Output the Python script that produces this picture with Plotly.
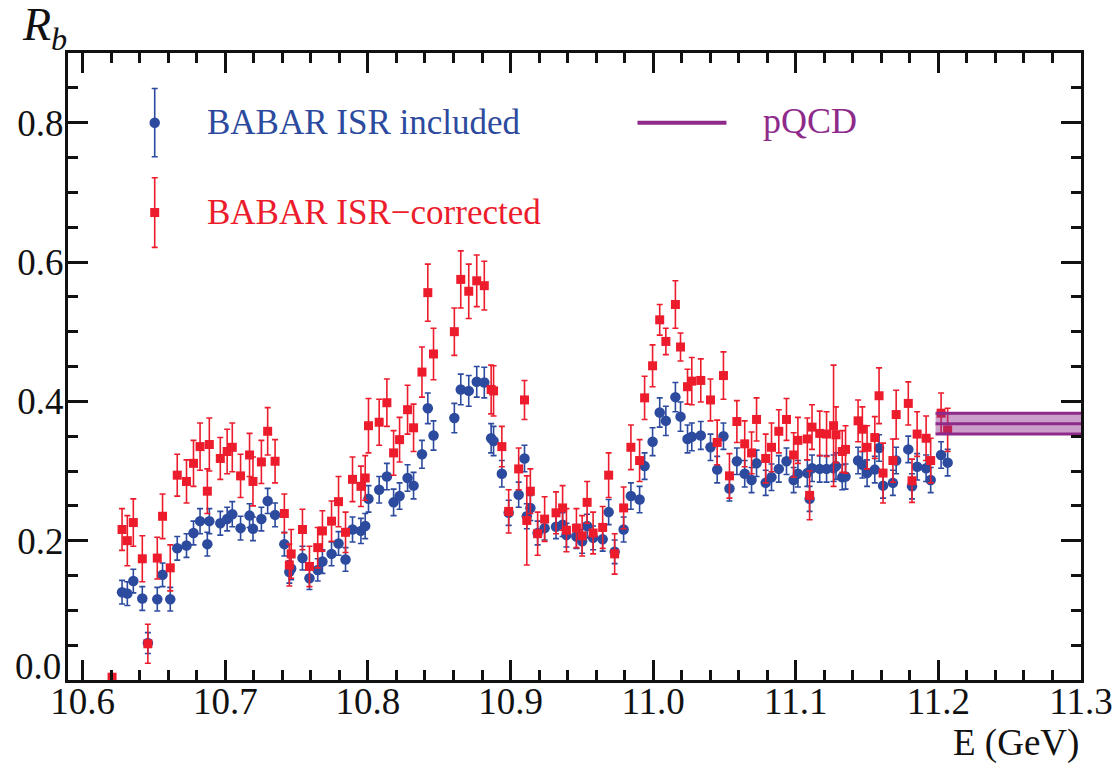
import plotly.graph_objects as go

# Centre-of-mass energy of each scan point (GeV)
energy = [
    10.6206, 10.6276, 10.6313, 10.6355, 10.6418, 10.6457, 10.6523, 10.6560, 10.6614, 10.6663,
    10.6728, 10.6777, 10.6823, 10.6874, 10.6888, 10.6965, 10.7013, 10.7049, 10.7107, 10.7170,
    10.7194, 10.7253, 10.7297, 10.7349, 10.7414, 10.7449, 10.7462, 10.7541, 10.7590, 10.7648,
    10.7681, 10.7745, 10.7794, 10.7843, 10.7892, 10.7951, 10.7981, 10.8004, 10.8079, 10.8133,
    10.8180, 10.8222, 10.8278, 10.8320, 10.8379, 10.8420, 10.8460, 10.8606, 10.8651, 10.8707,
    10.8763, 10.8816, 10.8864, 10.8881, 10.8939, 10.8987, 10.9057, 10.9098, 10.9114, 10.9139,
    10.9190, 10.9239, 10.9319, 10.9365, 10.9392, 10.9462, 10.9502, 10.9537, 10.9579, 10.9646,
    10.9688, 10.9730, 10.9793, 10.9844, 10.9905, 10.9940, 10.9996, 11.0046, 11.0089, 11.0156,
    11.0192, 11.0241, 11.0271, 11.0334, 11.0402, 11.0449, 11.0493, 11.0535, 11.0587, 11.0642,
    11.0690, 11.0725, 11.0789, 11.0830, 11.0881, 11.0935, 11.0985, 11.1015, 11.1081, 11.1097,
    11.1114, 11.1168, 11.1216, 11.1265, 11.1282, 11.1326, 11.1349, 11.1437, 11.1467, 11.1500,
    11.1554, 11.1584, 11.1612, 11.1681, 11.1704, 11.1789, 11.1815, 11.1851, 11.1914, 11.1946,
    11.2019, 11.2065,
]

# R_b with ISR effects included
rb_isr_included = [
    None, 0.126, 0.124, 0.142, 0.117, 0.053, 0.116, 0.151, 0.116, 0.189,
    0.193, 0.211, 0.228, 0.195, 0.228, 0.225, 0.231, 0.238, 0.218, 0.236,
    0.217, 0.231, 0.257, 0.237, 0.195, 0.155, 0.160, 0.175, 0.146, 0.158,
    0.170, 0.181, 0.196, 0.173, 0.216, 0.214, 0.221, 0.260, 0.273, 0.292,
    0.255, 0.264, 0.290, 0.279, 0.324, 0.390, 0.351, 0.376, 0.417, 0.415,
    0.428, 0.427, 0.347, 0.343, 0.296, 0.240, 0.266, 0.318, 0.235, 0.247,
    0.211, 0.218, 0.220, 0.223, 0.208, 0.206, 0.199, 0.221, 0.204, 0.202,
    0.241, 0.184, 0.216, 0.264, 0.259, 0.307, 0.342, 0.384, 0.372, 0.406,
    0.378, 0.346, 0.349, 0.351, 0.334, 0.302, 0.350, 0.275, 0.314, 0.296,
    0.287, 0.311, 0.283, 0.291, 0.303, 0.314, 0.287, 0.296, 0.297, 0.260,
    0.304, 0.303, 0.303, 0.304, 0.307, 0.291, 0.292, 0.315, 0.309, 0.297,
    0.302, 0.333, 0.279, 0.283, 0.315, 0.331, 0.278, 0.306, 0.304, 0.287,
    0.323, 0.312,
]
rb_isr_included_err = [
    None, 0.017, 0.017, 0.017, 0.017, 0.015, 0.017, 0.017, 0.017, 0.017,
    0.017, 0.017, 0.018, 0.017, 0.018, 0.017, 0.017, 0.018, 0.017, 0.017,
    0.017, 0.017, 0.018, 0.017, 0.017, 0.016, 0.016, 0.017, 0.016, 0.016,
    0.017, 0.017, 0.017, 0.017, 0.018, 0.018, 0.018, 0.019, 0.019, 0.019,
    0.019, 0.019, 0.019, 0.019, 0.020, 0.022, 0.021, 0.021, 0.022, 0.022,
    0.022, 0.022, 0.021, 0.021, 0.019, 0.018, 0.018, 0.019, 0.018, 0.018,
    0.017, 0.017, 0.017, 0.017, 0.017, 0.017, 0.017, 0.017, 0.017, 0.017,
    0.018, 0.017, 0.018, 0.019, 0.019, 0.019, 0.020, 0.021, 0.021, 0.021,
    0.021, 0.020, 0.020, 0.020, 0.019, 0.019, 0.019, 0.018, 0.019, 0.019,
    0.018, 0.019, 0.018, 0.019, 0.019, 0.019, 0.018, 0.019, 0.019, 0.018,
    0.019, 0.019, 0.019, 0.019, 0.019, 0.018, 0.018, 0.019, 0.019, 0.019,
    0.019, 0.019, 0.018, 0.018, 0.019, 0.019, 0.018, 0.019, 0.019, 0.018,
    0.019, 0.019,
]

# R_b after ISR correction
rb_isr_corrected = [
    0.004, 0.216, 0.200, 0.226, 0.174, 0.052, 0.175, 0.235, 0.161, 0.294,
    0.285, 0.311, 0.335, 0.271, 0.338, 0.318, 0.328, 0.334, 0.293, 0.323,
    0.285, 0.313, 0.357, 0.314, 0.239, 0.165, 0.181, 0.216, 0.163, 0.190,
    0.214, 0.228, 0.256, 0.212, 0.288, 0.278, 0.290, 0.365, 0.370, 0.398,
    0.326, 0.345, 0.388, 0.362, 0.442, 0.556, 0.468, 0.500, 0.575, 0.558,
    0.573, 0.566, 0.417, 0.415, 0.335, 0.242, 0.303, 0.402, 0.229, 0.271,
    0.210, 0.231, 0.240, 0.247, 0.215, 0.218, 0.207, 0.255, 0.211, 0.219,
    0.294, 0.181, 0.247, 0.334, 0.315, 0.405, 0.451, 0.517, 0.486, 0.539,
    0.478, 0.421, 0.429, 0.430, 0.402, 0.341, 0.437, 0.293, 0.371, 0.339,
    0.326, 0.374, 0.318, 0.334, 0.357, 0.374, 0.323, 0.344, 0.346, 0.265,
    0.363, 0.354, 0.353, 0.365, 0.352, 0.328, 0.331, 0.372, 0.360, 0.334,
    0.348, 0.408, 0.297, 0.315, 0.381, 0.397, 0.286, 0.353, 0.347, 0.315,
    0.383, 0.359,
]
rb_isr_corrected_err = [
    0.003, 0.030, 0.036, 0.034, 0.033, 0.028, 0.030, 0.032, 0.033, 0.030,
    0.031, 0.033, 0.034, 0.032, 0.038, 0.030, 0.032, 0.035, 0.031, 0.031,
    0.035, 0.031, 0.034, 0.031, 0.028, 0.030, 0.035, 0.029, 0.029, 0.029,
    0.029, 0.029, 0.036, 0.029, 0.032, 0.029, 0.032, 0.039, 0.033, 0.034,
    0.032, 0.032, 0.035, 0.034, 0.036, 0.041, 0.037, 0.034, 0.041, 0.039,
    0.037, 0.035, 0.035, 0.036, 0.029, 0.031, 0.030, 0.028, 0.064, 0.032,
    0.031, 0.032, 0.030, 0.032, 0.031, 0.028, 0.029, 0.030, 0.030, 0.030,
    0.032, 0.029, 0.030, 0.032, 0.030, 0.031, 0.030, 0.022, 0.019, 0.034,
    0.020, 0.025, 0.034, 0.031, 0.030, 0.032, 0.034, 0.032, 0.030, 0.033,
    0.030, 0.031, 0.035, 0.035, 0.031, 0.030, 0.032, 0.033, 0.030, 0.035,
    0.032, 0.032, 0.032, 0.087, 0.040, 0.030, 0.034, 0.030, 0.032, 0.031,
    0.030, 0.040, 0.043, 0.031, 0.035, 0.031, 0.031, 0.032, 0.032, 0.032,
    0.029, 0.031,
]

# Perturbative QCD expectation above 11.2 GeV
pqcd_energy = [11.198, 11.3]
pqcd_central = [0.368, 0.368]
pqcd_low = [0.353, 0.353]
pqcd_high = [0.383, 0.383]

x_ticks = [10.6, 10.7, 10.8, 10.9, 11.0, 11.1, 11.2, 11.3]
y_ticks = [0.2, 0.4, 0.6, 0.8]

BLUE = "#2c4a9e"
RED = "#ec1c2c"
PURPLE = "#8e2a8a"
INK = "#111"
FONT = "'Liberation Serif', 'Times New Roman', 'DejaVu Serif', serif"

fig = go.Figure()

fig.add_trace(go.Scatter(
    x=energy, y=rb_isr_included, mode="markers",
    marker=dict(symbol="circle", size=10.5, color=BLUE),
    error_y=dict(type="data", array=rb_isr_included_err, color=BLUE, thickness=1.6, width=3),
    showlegend=False,
))
fig.add_trace(go.Scatter(
    x=energy, y=rb_isr_corrected, mode="markers",
    marker=dict(symbol="square", size=9, color=RED),
    error_y=dict(type="data", array=rb_isr_corrected_err, color=RED, thickness=1.6, width=3),
    showlegend=False,
))

# pQCD band with its edges and central value
fig.add_trace(go.Scatter(x=pqcd_energy, y=pqcd_low, mode="lines",
                         line=dict(color=PURPLE, width=3), showlegend=False))
fig.add_trace(go.Scatter(x=pqcd_energy, y=pqcd_high, mode="lines", fill="tonexty",
                         fillcolor="rgba(142,42,138,0.45)",
                         line=dict(color=PURPLE, width=3), showlegend=False))
fig.add_trace(go.Scatter(x=pqcd_energy, y=pqcd_central, mode="lines",
                         line=dict(color=PURPLE, width=3), showlegend=False))

# Hand-drawn legend keys
fig.add_trace(go.Scatter(
    x=[10.6505], y=[0.800], mode="markers",
    marker=dict(symbol="circle", size=10.5, color=BLUE),
    error_y=dict(type="data", array=[0.049], color=BLUE, thickness=1.6, width=3),
    showlegend=False, hoverinfo="skip",
))
fig.add_trace(go.Scatter(
    x=[10.6505], y=[0.671], mode="markers",
    marker=dict(symbol="square", size=9, color=RED),
    error_y=dict(type="data", array=[0.05], color=RED, thickness=1.6, width=3),
    showlegend=False, hoverinfo="skip",
))
fig.add_trace(go.Scatter(
    x=[10.989, 11.0514], y=[0.800, 0.800], mode="lines",
    line=dict(color=PURPLE, width=4), showlegend=False, hoverinfo="skip",
))

fig.add_annotation(x=10.6858, y=0.800, text="BABAR ISR included", showarrow=False,
                   xanchor="left", yanchor="middle",
                   font=dict(family=FONT, size=35, color=BLUE))
fig.add_annotation(x=10.6858, y=0.671, text="BABAR ISR\u2212corrected", showarrow=False,
                   xanchor="left", yanchor="middle",
                   font=dict(family=FONT, size=35, color=RED))
fig.add_annotation(x=11.0753, y=0.803, text="pQCD", showarrow=False,
                   xanchor="left", yanchor="middle",
                   font=dict(family=FONT, size=36, color=PURPLE))

# Zero label of the y axis, lifted clear of the x tick labels
fig.add_annotation(xref="paper", yref="y", x=-0.005, y=0.019, text="0.0",
                   showarrow=False, xanchor="right", yanchor="middle",
                   font=dict(family=FONT, size=37, color=INK))

# Axis titles
fig.add_annotation(xref="paper", yref="paper", x=-0.047, y=1.040,
                   text="<i>R<sub>b</sub></i>", showarrow=False,
                   xanchor="left", yanchor="middle",
                   font=dict(family=FONT, size=46, color=INK))
fig.add_annotation(xref="paper", yref="paper", x=1.0, y=-0.100,
                   text="E (GeV)", showarrow=False,
                   xanchor="right", yanchor="middle",
                   font=dict(family=FONT, size=37, color=INK))

axis_common = dict(
    showline=True, linecolor=INK, linewidth=3, mirror="allticks",
    ticks="inside", ticklen=20, tickwidth=3, tickcolor=INK,
    showgrid=False, zeroline=False, automargin=False,
    tickfont=dict(family=FONT, size=37, color=INK),
)
fig.update_xaxes(range=[10.5897, 11.3], tickvals=x_ticks, tickformat=".1f",
                 ticklabelstandoff=-13,
                 minor=dict(dtick=0.02, tick0=10.6, ticks="inside", ticklen=10,
                            tickwidth=3, tickcolor=INK, showgrid=False),
                 **axis_common)
fig.update_yaxes(range=[0.0, 0.9], tickvals=y_ticks, tickformat=".1f",
                 ticklabelstandoff=-6,
                 minor=dict(dtick=0.05, tick0=0.0, ticks="inside", ticklen=10,
                            tickwidth=3, tickcolor=INK, showgrid=False),
                 **axis_common)

fig.update_layout(
    width=1118, height=764,
    margin=dict(l=68, r=37, t=53, b=84, autoexpand=False),
    paper_bgcolor="white", plot_bgcolor="white",
    font=dict(family=FONT),
)

fig.write_html("out.html")
